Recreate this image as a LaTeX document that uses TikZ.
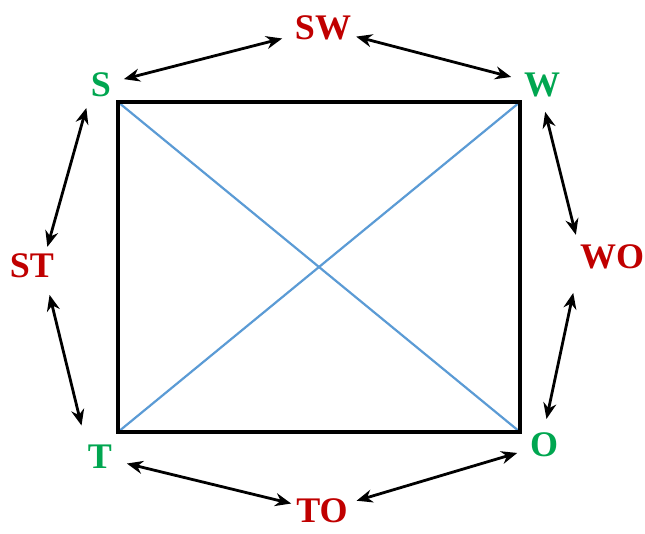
\documentclass[tikz,border=0pt]{standalone}
\usepackage{fontspec}
\setmainfont{Liberation Serif}
\usetikzlibrary{positioning,arrows.meta}
\definecolor{setred}{RGB}{192,0,0}
\definecolor{setgreen}{RGB}{0,166,80}
\definecolor{diagblue}{RGB}{91,155,213}

\begin{document}
\begin{tikzpicture}[x=1pt, y=-1pt,
  every node/.style={inner sep=2pt, font=\fontsize{36}{38}\selectfont\bfseries},
  single/.style={text=setgreen},
  pair/.style={text=setred},
  link/.style={line width=2.8pt, {Stealth[length=16pt,width=13pt]}-{Stealth[length=16pt,width=13pt]}}]
\useasboundingbox (0,0) rectangle (645,533);

% corners of the square
\coordinate (cs) at (118,102);
\coordinate (cw) at (520,102);
\coordinate (co) at (520,432);
\coordinate (ct) at (118,432);

% single letters at the corners
\node[single] (s) at (101,85) {S};
\node[single] (w) at (542,85) {W};
\node[single] (o) at (544,445) {O};
\node[single] (t) at (100,457) {T};

% pairs between them
\node[pair] (sw) at (323,28) {SW};
\node[pair] (wo) at (612,257) {WO};
\node[pair] (to) at (322,511) {TO};
\node[pair] (st) at (32,266) {ST};

% square and its diagonals
\draw[diagblue, line width=2.2pt] (cs) -- (co) (cw) -- (ct);
\draw[line width=3.2pt] (cs) -- (cw) -- (co) -- (ct) -- cycle;

% two-way arrows round the square
\draw[link, shorten <=11pt, shorten >=11pt] (s) -- (sw);
\draw[link, shorten <=3pt, shorten >=11pt] (sw) -- (w);
\draw[link, shorten <=13pt, shorten >=8pt] (w.south) -- (wo.north west);
\draw[link, shorten <=22pt, shorten >=12pt] (wo.south west) -- (o.north);
\draw[link, shorten <=11pt, shorten >=7pt] (o) -- (to);
\draw[link, shorten <=3pt, shorten >=13pt] (to) -- (t);
\draw[link, shorten <=18pt, shorten >=15pt] (t.north west) -- ([xshift=14pt]st.south);
\draw[link, shorten <=5pt, shorten >=9pt] ([xshift=14pt]st.north) -- (s.south west);
\end{tikzpicture}
\end{document}
